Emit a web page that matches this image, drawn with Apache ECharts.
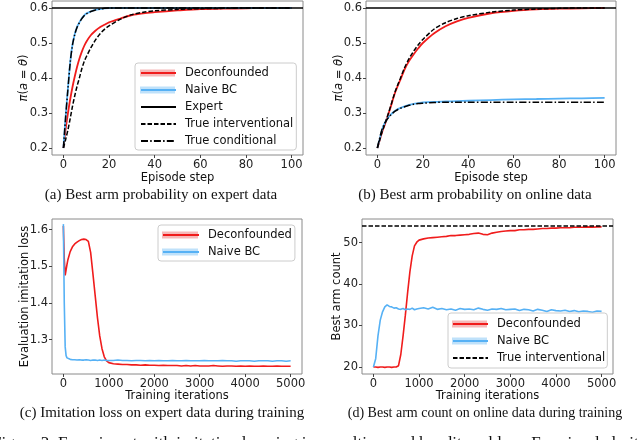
<!DOCTYPE html>
<html><head><meta charset="utf-8">
<script src="https://cdn.jsdelivr.net/npm/echarts@6/dist/echarts.min.js"></script>
<style>html,body{margin:0;padding:0;background:#fff}#c{width:640px;height:440px}</style>
</head><body><div id="c"></div>
<script>
// ---------------- data ----------------
// Episode steps (panels a, b)
const stepsA = [0,1,2,3,4,5,6,7,8,9,10,12,14,16,18,20,25,30,35,40,50,60,70,80,90,100];
// (a) best arm probability on expert data
const deconfA = [0.2,0.255,0.30,0.34,0.375,0.405,0.432,0.455,0.474,0.49,0.503,0.522,0.535,0.545,0.552,0.559,0.57,0.58,0.585,0.588,0.593,0.597,0.598,0.599,0.6,0.6];
const naiveA  = [0.2,0.292,0.372,0.447,0.497,0.526,0.546,0.559,0.57,0.578,0.584,0.59,0.595,0.597,0.599,0.6,0.6,0.6,0.6,0.6,0.6,0.6,0.6,0.6,0.6,0.6];
const interA  = [0.2,0.225,0.252,0.285,0.32,0.35,0.377,0.4,0.425,0.445,0.46,0.486,0.508,0.526,0.539,0.549,0.568,0.581,0.588,0.592,0.596,0.598,0.599,0.6,0.6,0.6];
const condA   = [0.2,0.29,0.37,0.445,0.495,0.525,0.545,0.558,0.569,0.577,0.583,0.59,0.594,0.597,0.599,0.6,0.6,0.6,0.6,0.6,0.6,0.6,0.6,0.6,0.6,0.6];
// (b) best arm probability on online data
const deconfB = [0.2,0.222,0.244,0.262,0.28,0.3,0.32,0.342,0.362,0.378,0.393,0.425,0.449,0.468,0.485,0.5,0.528,0.548,0.562,0.572,0.585,0.592,0.596,0.598,0.599,0.6];
const naiveB  = [0.2,0.225,0.25,0.268,0.28,0.289,0.296,0.302,0.307,0.311,0.314,0.319,0.323,0.326,0.328,0.33,0.332,0.333,0.334,0.335,0.337,0.339,0.34,0.341,0.342,0.343];
const interB  = [0.2,0.222,0.244,0.263,0.282,0.302,0.323,0.344,0.364,0.381,0.397,0.43,0.456,0.477,0.495,0.51,0.54,0.558,0.57,0.578,0.588,0.594,0.597,0.599,0.6,0.6];
const condB   = [0.2,0.228,0.252,0.268,0.279,0.288,0.295,0.301,0.306,0.31,0.313,0.318,0.322,0.325,0.327,0.328,0.33,0.331,0.331,0.331,0.331,0.331,0.331,0.331,0.331,0.331];
const expertProb = 0.6;

// Training iterations (panel c)
const iterC = [0,20,40,60,80,100,150,200,250,300,350,400,450,500,550,600,650,700,750,800,850,900,950,1000,
  1100,1200,1300,1400,1500,1600,1700,1800,1900,2000,2100,2200,2300,2400,2500,2600,2700,2800,2900,3000,
  3100,3200,3300,3400,3500,3600,3700,3800,3900,4000,4100,4200,4300,4400,4500,4600,4700,4800,4900,5000];
const deconfC = [1.61,1.52,1.475,1.49,1.505,1.518,
  1.54,1.553,1.561,1.566,1.570,1.573,1.574,1.573,1.568,1.538,1.48,1.42,1.36,1.31,1.275,1.253,1.242,1.237,
  1.234,1.233,1.232,1.232,1.231,1.231,1.230,1.231,1.230,1.230,
  1.229,1.230,1.229,1.229,1.229,1.228,1.229,1.228,1.229,1.228,
  1.228,1.228,1.229,1.228,1.227,1.228,1.228,1.227,1.228,1.227,
  1.228,1.227,1.227,1.228,1.227,1.227,1.228,1.227,1.227,1.227];
const naiveC = [1.615,1.40,1.28,1.256,1.25,1.248,
  1.246,1.245,1.245,1.244,1.245,1.244,1.244,1.245,1.244,1.243,1.244,1.244,1.243,1.244,1.243,1.244,1.243,1.243,
  1.243,1.244,1.243,1.243,1.242,1.243,1.243,1.242,1.243,1.242,
  1.243,1.242,1.242,1.243,1.242,1.242,1.243,1.242,1.242,1.242,
  1.243,1.242,1.242,1.242,1.243,1.242,1.242,1.241,1.242,1.242,
  1.242,1.241,1.242,1.242,1.242,1.241,1.242,1.242,1.241,1.242];

// Training iterations (panel d)
const iterD = [0,50,100,150,200,250,300,350,400,450,500,550,600,650,700,750,800,850,900,950,1000,
  1100,1200,1300,1400,1500,1600,1700,1800,1900,2000,2100,2200,2300,2400,2500,2600,2700,2800,2900,3000,
  3100,3200,3300,3400,3500,3600,3700,3800,3900,4000,4100,4200,4300,4400,4500,4600,4700,4800,4900,5000];
const deconfD = [20,20,19.9,20,20,19.9,20,20,19.9,20,20,20.3,23,27.5,32.5,38,43,46.8,49.2,50.1,50.6,
  50.9,51.1,51.2,51.3,51.4,51.5,51.7,51.7,51.8,51.9,
  52.0,52.2,52.3,52.0,51.9,52.3,52.5,52.7,52.8,52.9,
  52.9,53.1,53.1,53.2,53.2,53.3,53.4,53.4,53.5,53.5,
  53.6,53.6,53.6,53.7,53.7,53.7,53.8,53.7,53.8,53.8];
const naiveD = [20,22,27.5,31.3,33.3,34.5,35.0,34.6,34.5,34.2,34.3,34.0,33.9,34.1,33.8,34.0,33.9,34.2,33.8,34.0,34.1,
  34.3,34.0,34.4,33.9,34.1,33.8,34.0,33.7,34.1,33.9,
  34.0,33.8,34.2,33.9,33.7,34.0,33.9,34.1,33.8,33.9,
  34.0,33.6,33.9,33.8,33.5,33.9,33.7,33.4,33.8,33.6,
  33.5,33.7,33.4,33.6,33.3,33.5,33.4,33.2,33.5,33.4];
const trueIntervCount = 54;

// Tick labels
const ticksStep = [0,20,40,60,80,100];
const ticksProb = [0.2,0.3,0.4,0.5,0.6];
const ticksIter = [0,1000,2000,3000,4000,5000];
const ticksLoss = [1.3,1.4,1.5,1.6];
const ticksCount = [20,30,40,50];

// Axis ranges
const rangeStep = [-5,105], rangeProb = [0.18,0.62];
const rangeIter = [-250,5250], rangeLoss = [1.206,1.629], rangeCount = [18.3,55.7];

// Texts
const captions = [
  '(a) Best arm probability on expert data',
  '(b) Best arm probability on online data',
  '(c) Imitation loss on expert data during training',
  '(d) Best arm count on online data during training'
];
const figureText = 'Figure 3: Experiment with imitation learning in a multi-armed bandit problem. For visual clarity';

// ---------------- styling ----------------
const FONT = 'DejaVu Sans';
const SERIF = '"Liberation Serif", "Times New Roman", serif';
const FS = 11.5;
const RED = '#f01c1c', BLUE = '#56b1f5', BLACK = '#000';
const DASH = [4.5, 2];
const DASHDOT = [7, 2.2, 1.5, 2.2];

const grids = [
  {left:52, top:1, width:251, height:154},
  {left:366, top:1, width:250, height:154},
  {left:52, top:219, width:250, height:155},
  {left:362, top:219, width:251, height:155}
].map(g => Object.assign({show:true, borderColor:'#8a8a8a', borderWidth:1, backgroundColor:'transparent', containLabel:false, outerBoundsMode:'none'}, g));

function axis(gi, range, ticks, name, gap, fmt, rich) {
  const a = {
    type:'value', gridIndex:gi, min:range[0], max:range[1],
    name:name, nameLocation:'middle', nameGap:gap, nameMoveOverlap:false,
    nameTextStyle:{fontFamily:FONT, fontSize:FS, color:'#111'},
    axisLine:{show:false, onZero:false}, splitLine:{show:false},
    axisTick:{show:true, length:3, inside:false, customValues:ticks, lineStyle:{color:'#444', width:1}},
    axisLabel:{show:true, customValues:ticks, margin:4, fontFamily:FONT, fontSize:FS, color:'#222', formatter:fmt}
  };
  if (rich) a.nameTextStyle.rich = rich;
  return a;
}
const f1 = v => Number(v).toFixed(1);
const f0 = v => String(Math.round(v));
const richPi = {i:{fontStyle:'italic', fontFamily:FONT, fontSize:FS, color:'#111'}};
const piName = '{i|π}({i|a} = {i|θ})';

function ser(name, gi, xs, ys, color, width, type, smooth) {
  return {
    type:'line', name:name, xAxisIndex:gi, yAxisIndex:gi,
    data: xs.map((x, i) => [x, ys[i]]),
    symbol:'none', showSymbol:false, smooth: smooth ? 0.3 : false,
    lineStyle:{color:color, width:width, type:type},
    itemStyle:{color:color}, emphasis:{disabled:true}, silent:true
  };
}
function hline(name, gi, value, color, type) {
  return {
    type:'line', name:name, xAxisIndex:gi, yAxisIndex:gi, data:[],
    symbol:'none', lineStyle:{color:color, width:1.5, type:type}, itemStyle:{color:color},
    markLine:{symbol:'none', silent:true, label:{show:false}, lineStyle:{color:color, width:1.5, type:type},
      emphasis:{disabled:true}, data:[{yAxis:value}]}
  };
}

const ROWH = 14, GAP = 3;
const legendBase = {
  orient:'vertical', itemHeight:12, itemGap:GAP, borderColor:'#cccccc', borderWidth:1, borderRadius:3,
  backgroundColor:'transparent', selectedMode:false, itemStyle:{opacity:0},
  textStyle:{fontFamily:FONT, fontSize:FS, color:'#111', lineHeight:ROWH, padding:[0,0,0,4]}
};
const legends = [
  Object.assign({}, legendBase, {data:['Deconfounded','Naive BC','Expert','True interventional','True conditional'],
    left:135, top:63, itemWidth:35, padding:[3,3,2,5]}),
  Object.assign({}, legendBase, {data:['Deconfounded','Naive BC'],
    left:158, top:225, itemWidth:36, padding:[3,3,2,4]}),
  Object.assign({}, legendBase, {data:['Deconfounded','Naive BC','True interventional'],
    left:448, top:313, itemWidth:35, padding:[4,2,3,4]})
];
// translucent bands behind the band-type legend icons
function bands(lg) {
  const out = [];
  const cols = ['#f6b9b9', '#bfe1fa'];
  for (let r = 0; r < 2; r++) {
    const cy = lg.top + lg.padding[0] + ROWH / 2 + r * (ROWH + GAP);
    out.push({type:'rect', z:1, silent:true,
      shape:{x:lg.left + lg.padding[3], y:cy - 3.5, width:lg.itemWidth, height:7},
      style:{fill:cols[r]}});
  }
  return out;
}

const capPos = [[161,195,15],[475,195,15],[162,413,15],[485,413,14]];
const graphics = [];
legends.forEach(lg => bands(lg).forEach(b => graphics.push(b)));
captions.forEach((t, i) => graphics.push({type:'text', z:5, silent:true,
  style:{text:t, x:capPos[i][0], y:capPos[i][1], textAlign:'center', textVerticalAlign:'middle',
    font:capPos[i][2] + 'px ' + SERIF, fill:'#111'}}));
graphics.push({type:'text', z:5, silent:true,
  style:{text:figureText, x:-8, y:435, textAlign:'left', textVerticalAlign:'top', font:'17px ' + SERIF, fill:'#111'}});

const option = {
  animation:false,
  grid: grids,
  xAxis: [
    axis(0, rangeStep, ticksStep, 'Episode step', 17, f0),
    axis(1, rangeStep, ticksStep, 'Episode step', 17, f0),
    axis(2, rangeIter, ticksIter, 'Training iterations', 16, f0),
    axis(3, rangeIter, ticksIter, 'Training iterations', 16, f0)
  ],
  yAxis: [
    axis(0, rangeProb, ticksProb, piName, 22, f1, richPi),
    axis(1, rangeProb, ticksProb, piName, 21, f1, richPi),
    axis(2, rangeLoss, ticksLoss, 'Evaluation imitation loss', 21, f1),
    axis(3, rangeCount, ticksCount, 'Best arm count', 19, f0)
  ],
  legend: legends,
  graphic: graphics,
  series: [
    ser('Deconfounded', 0, stepsA, deconfA, RED, 1.8, 'solid', true),
    ser('Naive BC', 0, stepsA, naiveA, BLUE, 1.8, 'solid', true),
    hline('Expert', 0, expertProb, BLACK, 'solid'),
    ser('True interventional', 0, stepsA, interA, BLACK, 1.5, DASH, true),
    ser('True conditional', 0, stepsA, condA, BLACK, 1.5, DASHDOT, true),

    ser('Deconfounded', 1, stepsA, deconfB, RED, 1.8, 'solid', true),
    ser('Naive BC', 1, stepsA, naiveB, BLUE, 1.8, 'solid', true),
    hline('Expert', 1, expertProb, BLACK, 'solid'),
    ser('True interventional', 1, stepsA, interB, BLACK, 1.5, DASH, true),
    ser('True conditional', 1, stepsA, condB, BLACK, 1.5, DASHDOT, true),

    ser('Deconfounded', 2, iterC, deconfC, RED, 1.6, 'solid', false),
    ser('Naive BC', 2, iterC, naiveC, BLUE, 1.6, 'solid', false),

    ser('Deconfounded', 3, iterD, deconfD, RED, 1.6, 'solid', false),
    ser('Naive BC', 3, iterD, naiveD, BLUE, 1.6, 'solid', false),
    hline('True interventional', 3, trueIntervCount, BLACK, DASH)
  ]
};
const chart = echarts.init(document.getElementById('c'), null, {renderer:'canvas'});
chart.setOption(option);
</script>
</body></html>
